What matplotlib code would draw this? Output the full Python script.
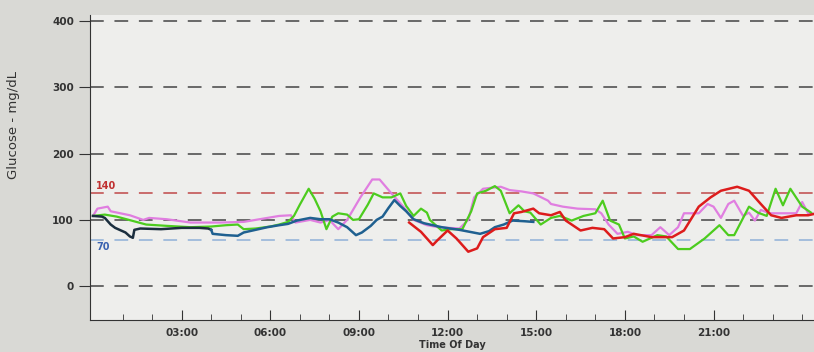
import matplotlib.pyplot as plt

# glucose traces (hours, mg/dL)
navy_h = [0.0, 0.3, 0.4, 0.6, 0.75, 1.1, 1.25, 1.35, 1.4, 1.6, 2.3, 3.0, 3.6, 3.9, 4.0]
navy_v = [106, 105, 103, 93, 88, 81, 75, 73, 85, 87, 86, 88, 88, 87, 85]

teal_h = [4.0, 4.05, 4.5, 4.9, 5.1, 5.5, 5.9, 6.3, 6.6, 6.9, 7.35, 7.7, 8.0, 8.3, 8.6,
          8.9, 9.1, 9.4, 9.6, 9.8, 10.0, 10.2, 10.4, 10.6, 10.85, 11.2, 11.8, 12.4,
          13.1, 13.4, 13.6, 13.9, 14.2, 14.6, 14.9]
teal_v = [85, 79, 77, 76, 81, 85, 89, 92, 94, 99, 103, 101, 101, 96, 89,
          77, 81, 91, 100, 105, 118, 130, 121, 113, 101, 95, 89, 85,
          79, 83, 89, 93, 99, 98, 97]

green_h = [0.0, 0.4, 0.8, 1.3, 1.8, 2.5, 3.3, 4.0, 4.5, 4.9, 5.1, 5.5, 6.0, 6.3, 6.6,
           6.8, 7.0, 7.3, 7.5, 7.7, 7.9, 8.1, 8.3, 8.6, 8.8, 9.0, 9.3, 9.5, 9.8, 10.1,
           10.4, 10.6, 10.85, 11.1, 11.3, 11.4, 11.8, 12.1, 12.5, 12.8, 13.0, 13.3,
           13.6, 13.8, 14.1, 14.4, 14.6, 14.8, 15.15, 15.5, 15.8, 16.2, 16.6, 17.0,
           17.25, 17.5, 17.8, 18.0, 18.3, 18.6, 19.1, 19.4, 19.8, 20.2, 20.7, 21.2,
           21.5, 21.7, 22.2, 22.5, 22.8, 23.1, 23.35, 23.6, 24.0, 24.3]
green_v = [106, 108, 105, 99, 93, 91, 89, 90, 92, 93, 86, 87, 90, 93, 97,
           106, 123, 147, 132, 113, 86, 105, 110, 108, 100, 101, 123, 140, 134, 134,
           140, 121, 106, 117, 111, 100, 84, 86, 86, 113, 140, 144,
           151, 144, 110, 122, 113, 111, 93, 103, 106, 99, 106, 110,
           129, 99, 93, 72, 75, 67, 77, 75, 56, 56, 72, 92,
           77, 77, 120, 111, 106, 147, 122, 147, 120, 111]

pink_h = [0.0, 0.15, 0.5, 0.6, 1.25, 1.7, 1.9, 2.5, 3.3, 4.3, 5.1, 6.3, 6.7, 6.85, 7.35,
          7.7, 8.0, 8.3, 8.6, 9.05, 9.45, 9.7, 10.1, 10.5, 10.85, 11.3, 11.7, 12.4,
          12.7, 12.9, 13.2, 13.8, 14.1, 14.5, 14.9, 15.4, 15.5, 15.9, 16.4, 17.0,
          17.2, 17.45, 17.75, 18.1, 18.4, 18.9, 19.2, 19.5, 19.8, 20.0, 20.5, 20.8,
          21.0, 21.25, 21.5, 21.7, 22.0, 22.2, 22.4, 22.6, 22.9, 23.4, 23.8, 24.0,
          24.2, 24.4]
pink_v = [106, 117, 120, 113, 107, 100, 103, 101, 96, 96, 97, 106, 107, 96, 100,
          96, 100, 86, 100, 134, 161, 161, 140, 120, 100, 92, 89, 87,
          100, 134, 147, 150, 145, 143, 140, 129, 124, 120, 117, 116,
          110, 93, 79, 82, 77, 77, 89, 77, 89, 110, 110, 124,
          120, 103, 124, 129, 106, 111, 99, 115, 110, 110, 110, 127,
          110, 109]

red_h = [10.7, 11.1, 11.5, 11.65, 12.0, 12.3, 12.7, 13.0, 13.2, 13.6, 14.0, 14.25, 14.5,
         14.9, 15.1, 15.5, 15.8, 16.0, 16.5, 16.9, 17.3, 17.6, 18.0, 18.3, 18.9, 19.6,
         20.0, 20.5, 20.9, 21.25, 21.8, 22.2, 22.6, 22.95, 23.3, 23.8, 24.2, 24.4]
red_v = [96, 82, 62, 69, 84, 72, 52, 57, 74, 86, 88, 110, 112,
         117, 110, 107, 112, 99, 84, 88, 86, 72, 74, 79, 74, 74,
         84, 120, 134, 144, 150, 144, 124, 107, 103, 107, 107, 109]

grid_levels = [0, 100, 200, 300, 400]
hour_ticks = [3, 6, 9, 12, 15, 18, 21]
hour_labels = ["03:00", "06:00", "09:00", "12:00", "15:00", "18:00", "21:00"]

fig = plt.figure(figsize=(8.14, 3.52), dpi=100, facecolor="#d9d9d5")
ax = fig.add_axes([0.1106, 0.091, 0.8894, 0.866])
ax.set_facecolor("#eeeeec")

for g in grid_levels:
    ax.axhline(g, color="#444444", lw=1.1, dashes=(9, 7), zorder=1)
ax.axhline(140, color="#c04848", lw=1.1, dashes=(9, 7), zorder=1)
ax.axhline(70, color="#8fb0d8", lw=1.1, dashes=(9, 7), zorder=1)
ax.text(0.1, 147, "140", color="#c03030", fontsize=7, fontweight="bold")
ax.text(0.1, 55, "70", color="#3a62b0", fontsize=7, fontweight="bold")

ax.plot(pink_h, pink_v, color="#e07ee0", lw=1.6, zorder=3)
ax.plot(green_h, green_v, color="#4ccc1e", lw=1.6, zorder=3)
ax.plot(navy_h, navy_v, color="#1b2e3e", lw=1.8, zorder=4)
ax.plot(teal_h, teal_v, color="#1f6090", lw=1.8, zorder=4)
ax.plot(red_h, red_v, color="#dd1c1c", lw=1.8, zorder=4)

ax.set_xlim(-0.1, 24.4)
ax.set_ylim(-51, 409)
ax.set_xticks(hour_ticks)
ax.set_xticklabels(hour_labels)
ax.set_xticks(range(1, 25), minor=True)
ax.set_yticks(grid_levels)
ax.tick_params(axis="x", which="major", direction="in", length=7, labelsize=7.5,
               colors="#333333", pad=6)
ax.tick_params(axis="x", which="minor", direction="in", length=4, color="#333333")
ax.tick_params(axis="y", direction="out", length=8, labelsize=7.5, colors="#333333")
for lab in ax.get_yticklabels() + ax.get_xticklabels():
    lab.set_fontweight("bold")

for s in ["top", "right"]:
    ax.spines[s].set_visible(False)
ax.spines["left"].set_color("#333333")
ax.spines["bottom"].set_color("#333333")

ax.set_ylabel("Glucose - mg/dL", fontsize=9.5, color="#333333")
ax.yaxis.set_label_coords(-0.097, 0.64)
ax.set_xlabel("Time Of Day", fontsize=7, fontweight="bold", color="#333333", labelpad=1)

fig.savefig("out.png", dpi=100, facecolor=fig.get_facecolor())
